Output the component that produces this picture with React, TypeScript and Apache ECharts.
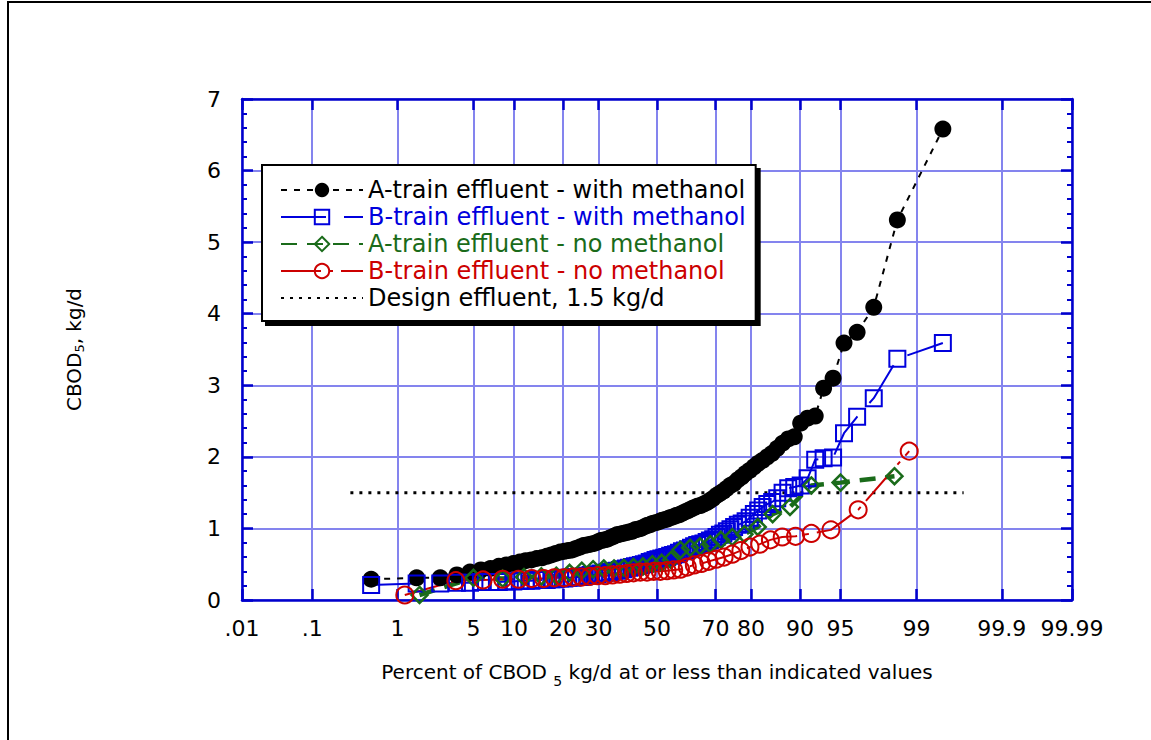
import React, { useEffect, useRef } from "react";
import * as echarts from "echarts";

// ---- probability-axis ticks (percent) and their labels ----
const tickPercents = [0.01, 0.1, 1, 5, 10, 20, 30, 50, 70, 80, 90, 95, 99, 99.9, 99.99];
const tickLabels = [".01", ".1", "1", "5", "10", "20", "30", "50", "70", "80", "90", "95", "99", "99.9", "99.99"];

// ---- sorted CBOD5 loads, kg/d ----
const aTrainWithMethanol = [
  0.29, 0.31, 0.31, 0.35, 0.39, 0.42, 0.44, 0.47, 0.49, 0.51,
  0.53, 0.55, 0.56, 0.58, 0.59, 0.61, 0.63, 0.65, 0.67, 0.68,
  0.69, 0.7, 0.72, 0.74, 0.76, 0.77, 0.78, 0.79, 0.81, 0.83,
  0.84, 0.85, 0.87, 0.89, 0.91, 0.92, 0.93, 0.94, 0.95, 0.96,
  0.98, 0.99, 1.0, 1.02, 1.04, 1.05, 1.07, 1.08, 1.09, 1.11,
  1.12, 1.13, 1.15, 1.16, 1.18, 1.19, 1.21, 1.23, 1.25, 1.27,
  1.29, 1.31, 1.32, 1.34, 1.36, 1.39, 1.42, 1.46, 1.49, 1.52,
  1.56, 1.6, 1.63, 1.68, 1.72, 1.77, 1.81, 1.86, 1.91, 1.95,
  2.0, 2.05, 2.12, 2.19, 2.25, 2.28, 2.47, 2.54, 2.57, 2.96,
  3.1, 3.59, 3.74, 4.09, 5.31, 6.58,
];
const bTrainWithMethanol = [
  0.21, 0.23, 0.23, 0.24, 0.24, 0.25, 0.25, 0.25, 0.26, 0.26,
  0.27, 0.27, 0.27, 0.28, 0.28, 0.28, 0.29, 0.29, 0.3, 0.3,
  0.31, 0.31, 0.32, 0.32, 0.33, 0.34, 0.35, 0.35, 0.36, 0.37,
  0.38, 0.38, 0.39, 0.4, 0.41, 0.42, 0.43, 0.44, 0.45, 0.46,
  0.47, 0.48, 0.49, 0.5, 0.51, 0.53, 0.54, 0.56, 0.57, 0.58,
  0.59, 0.6, 0.62, 0.63, 0.64, 0.66, 0.68, 0.69, 0.71, 0.73,
  0.75, 0.77, 0.78, 0.79, 0.81, 0.83, 0.85, 0.88, 0.91, 0.93,
  0.96, 0.99, 1.02, 1.05, 1.07, 1.1, 1.15, 1.2, 1.25, 1.3,
  1.34, 1.37, 1.42, 1.5, 1.56, 1.58, 1.6, 1.7, 1.96, 1.98,
  1.99, 2.33, 2.56, 2.82, 3.37, 3.59,
];
const aTrainNoMethanol = [
  0.07, 0.31, 0.3, 0.32, 0.33, 0.34, 0.38, 0.41, 0.43, 0.44,
  0.44, 0.45, 0.46, 0.47, 0.5, 0.52, 0.56, 0.7, 0.73, 0.75,
  0.78, 0.84, 0.88, 0.92, 1.02, 1.2, 1.3, 1.6, 1.64, 1.73,
];
const bTrainNoMethanol = [
  0.07, 0.27, 0.28, 0.29, 0.29, 0.3, 0.3, 0.31, 0.31, 0.32,
  0.32, 0.33, 0.34, 0.34, 0.35, 0.36, 0.37, 0.38, 0.39, 0.39,
  0.4, 0.4, 0.41, 0.42, 0.43, 0.46, 0.49, 0.51, 0.54, 0.57,
  0.6, 0.64, 0.69, 0.74, 0.78, 0.84, 0.88, 0.89, 0.93, 0.98,
  1.26, 2.08,
];
const designEffluent = 1.5;
const designSpanPercent = [0.3, 99.7];

// ---- inverse standard normal CDF: maps a probability onto the probability axis ----
function probit(p: number): number {
  const a = [-39.69683028665376, 220.9460984245205, -275.9285104469687, 138.357751867269, -30.66479806614716, 2.506628277459239];
  const b = [-54.47609879822406, 161.5858368580409, -155.6989798598866, 66.80131188771972, -13.28068155288572];
  const c = [-0.007784894002430293, -0.3223964580411365, -2.400758277161838, -2.549732539343734, 4.374664141464968, 2.938163982698783];
  const d = [0.007784695709041462, 0.3224671290700398, 2.445134137142996, 3.754408661907416];
  const pl = 0.02425;
  if (p < pl) {
    const q = Math.sqrt(-2 * Math.log(p));
    return (((((c[0] * q + c[1]) * q + c[2]) * q + c[3]) * q + c[4]) * q + c[5]) / ((((d[0] * q + d[1]) * q + d[2]) * q + d[3]) * q + 1);
  }
  if (p <= 1 - pl) {
    const q = p - 0.5;
    const r = q * q;
    return ((((((a[0] * r + a[1]) * r + a[2]) * r + a[3]) * r + a[4]) * r + a[5]) * q) / (((((b[0] * r + b[1]) * r + b[2]) * r + b[3]) * r + b[4]) * r + 1);
  }
  const q = Math.sqrt(-2 * Math.log(1 - p));
  return -(((((c[0] * q + c[1]) * q + c[2]) * q + c[3]) * q + c[4]) * q + c[5]) / ((((d[0] * q + d[1]) * q + d[2]) * q + d[3]) * q + 1);
}
const zOf = (percent: number) => probit(percent / 100);

// probability plot: the k-th smallest of n values sits at its Hazen plotting position (k-0.5)/n
function probabilityPoints(sorted: number[]) {
  const n = sorted.length;
  return sorted.map((v, k) => [zOf(((k + 0.5) / n) * 100), v]);
}

const tickZ = tickPercents.map(zOf);
const zMin = tickZ[0];
const zMax = tickZ[tickZ.length - 1];

const FRAME = "#0000cc";
const GRID = "#8484ee";
const BLUE = "#0000dd";
const GREEN = "#1a6b1a";
const RED = "#cc0000";
const FONT = "DejaVu Sans";

const names = {
  aWith: "A-train effluent - with methanol",
  bWith: "B-train effluent - with methanol",
  aNo: "A-train effluent - no methanol",
  bNo: "B-train effluent - no methanol",
  design: "Design effluent, 1.5 kg/d",
};

function labelFor(v: number): string {
  for (let i = 0; i < tickZ.length; i++) if (Math.abs(tickZ[i] - v) < 1e-6) return tickLabels[i];
  return "";
}

export default function App() {
  const ref = useRef<HTMLDivElement>(null);
  useEffect(() => {
    if (!ref.current) return;
    const chart = echarts.init(ref.current, undefined, { renderer: "svg" });
    const xBase = {
      type: "value" as const,
      min: zMin,
      max: zMax,
      axisLine: { show: true, onZero: false, lineStyle: { color: FRAME, width: 2.5 } },
      axisTick: { show: true, inside: true, length: 11, customValues: tickZ, lineStyle: { color: FRAME, width: 2.5 } },
    };
    const yBase = {
      type: "value" as const,
      min: 0,
      max: 7,
      interval: 1,
      axisLine: { show: true, onZero: false, lineStyle: { color: FRAME, width: 2.5 } },
      axisTick: { show: true, inside: true, length: 11, lineStyle: { color: FRAME, width: 2.5 } },
      minorTick: { show: true, splitNumber: 5, length: 5, lineStyle: { color: FRAME, width: 2 } },
    };
    chart.setOption({
      animation: false,
      backgroundColor: "#ffffff",
      grid: { left: 242, top: 99, right: 79, bottom: 140, containLabel: false },
      xAxis: [
        {
          ...xBase,
          position: "bottom",
          axisLabel: {
            show: true,
            customValues: tickZ,
            formatter: (v: number) => labelFor(v),
            margin: 17,
            color: "#000",
            fontFamily: FONT,
            fontSize: 22,
          },
          splitLine: { show: true, lineStyle: { color: GRID, width: 2 } },
          name: "Percent of CBOD {sub|5} kg/d at or less than indicated values",
          nameLocation: "middle",
          nameGap: 56,
          nameTextStyle: {
            color: "#000",
            fontFamily: FONT,
            fontSize: 20,
            rich: { sub: { fontFamily: FONT, fontSize: 14, color: "#000", padding: [18, 0, 0, 0] } },
          },
        },
        {
          ...xBase,
          position: "top",
          axisLabel: { show: false },
          splitLine: { show: false },
        },
      ],
      yAxis: [
        {
          ...yBase,
          position: "left",
          axisLabel: { show: true, margin: 21, color: "#000", fontFamily: FONT, fontSize: 22 },
          splitLine: { show: true, lineStyle: { color: GRID, width: 2 } },
          name: "CBOD{sub|5}, kg/d",
          nameLocation: "middle",
          nameRotate: 90,
          nameGap: 156,
          nameTextStyle: {
            color: "#000",
            fontFamily: FONT,
            fontSize: 20,
            rich: { sub: { fontFamily: FONT, fontSize: 13, color: "#000", padding: [12, 0, 0, 0] } },
          },
        },
        {
          ...yBase,
          position: "right",
          axisLabel: { show: false },
          splitLine: { show: false },
        },
      ],
      legend: {
        orient: "vertical",
        left: 262,
        top: 165,
        selectedMode: false,
        itemWidth: 82,
        itemHeight: 18,
        itemGap: 1,
        padding: [12, 10, 10, 18],
        backgroundColor: "#ffffff",
        borderColor: "#000",
        borderWidth: 2,
        shadowColor: "#000",
        shadowBlur: 0,
        shadowOffsetX: 4,
        shadowOffsetY: 4,
        textStyle: { fontFamily: FONT, fontSize: 24, lineHeight: 26, color: "#000" },
        data: [
          { name: names.aWith, textStyle: { color: "#000" } },
          { name: names.bWith, textStyle: { color: BLUE } },
          { name: names.aNo, textStyle: { color: GREEN } },
          { name: names.bNo, textStyle: { color: RED } },
          { name: names.design, textStyle: { color: "#000" }, itemStyle: { opacity: 0 } },
        ],
      },
      graphic: [
        {
          type: "rect",
          silent: true,
          shape: { x: 8, y: 2, width: 1170, height: 770 },
          style: { fill: "none", stroke: "#000", lineWidth: 2 },
          z: 100,
        },
      ],
      series: [
        {
          name: names.design,
          type: "line",
          silent: true,
          data: designSpanPercent.map((p) => [zOf(p), designEffluent]),
          symbol: "none",
          lineStyle: { color: "#000", width: 3, type: [3, 6], cap: "butt" },
        },
        {
          name: names.aWith,
          type: "line",
          silent: true,
          data: probabilityPoints(aTrainWithMethanol),
          symbol: "circle",
          symbolSize: 17,
          itemStyle: { color: "#000" },
          lineStyle: { color: "#000", width: 2, type: [6, 7] },
        },
        {
          name: names.bWith,
          type: "line",
          silent: true,
          data: probabilityPoints(bTrainWithMethanol),
          symbol: "rect",
          symbolSize: 16,
          itemStyle: { color: "rgba(0,0,0,0)", borderColor: BLUE, borderWidth: 2 },
          lineStyle: { color: BLUE, width: 2, type: [45, 18] },
        },
        {
          name: names.aNo,
          type: "line",
          silent: true,
          data: probabilityPoints(aTrainNoMethanol),
          symbol: "diamond",
          symbolSize: 16,
          itemStyle: { color: "rgba(0,0,0,0)", borderColor: GREEN, borderWidth: 2.5 },
          lineStyle: { color: GREEN, width: 4.5, type: [16, 10] },
        },
        {
          name: names.bNo,
          type: "line",
          silent: true,
          data: probabilityPoints(bTrainNoMethanol),
          symbol: "circle",
          symbolSize: 17,
          itemStyle: { color: "rgba(0,0,0,0)", borderColor: RED, borderWidth: 2 },
          lineStyle: { color: RED, width: 2, type: [40, 8, 4, 8] },
        },
      ],
    });
    return () => chart.dispose();
  }, []);
  return <div ref={ref} style={{ position: "absolute", left: 0, top: 0, width: 1151, height: 740 }} />;
}
